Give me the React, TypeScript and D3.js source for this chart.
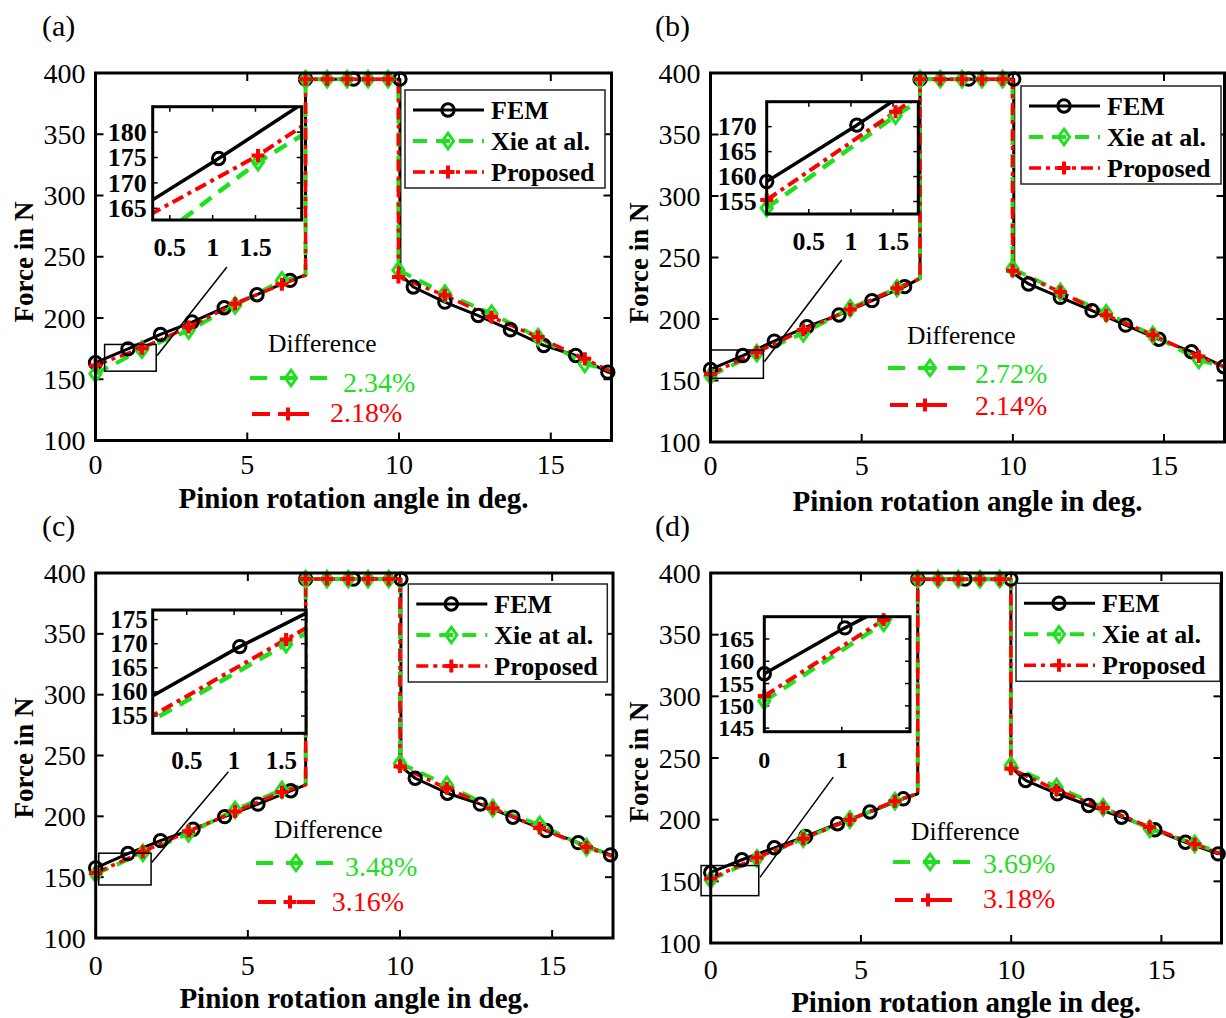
import React from 'react';
import * as d3 from 'd3';

// ---------------- data ----------------
const xDomain = [0, 17];
const yDomain = [100, 400];
const xTickValues = [0, 5, 10, 15];
const yTickValues = [100, 150, 200, 250, 300, 350, 400];
const seriesNames = ['FEM', 'Xie at al.', 'Proposed'];
const panelLabels = ['(a)', '(b)', '(c)', '(d)'];
const diffTitle = 'Difference';
const xieDiff = ['2.34%', '2.72%', '3.48%', '3.69%'];
const proposedDiff = ['2.18%', '2.14%', '3.16%', '3.18%'];
const xLabel = 'Pinion rotation angle in deg.';
const yLabel = 'Force in N';

// [x, y, marker? (0 = no marker)]
const femA = [[0,163.5],[1.07,174.8],[2.14,186.6],[3.18,196.7],[4.24,208.4],[5.32,219],[6.41,230.7],[6.92,235,0],[6.92,395],[8.5,395],[10.03,395],[10.03,236,0],[10.47,225.3],[11.51,213],[12.61,202],[13.67,190.4],[14.77,177.6],[15.82,169.4],[16.88,155.8],[17,155,0]];
const xieA = [[0,154.5],[1.53,174.1],[3.07,189.9],[4.6,210.3],[6.14,230.7],[6.92,235,0],[6.92,395],[7.63,395],[8.29,395],[8.98,395],[9.64,395],[9.98,395,0],[9.98,239],[11.51,220],[13.05,203.5],[14.58,184.4],[16.12,162.6],[17,157,0]];
const propA = [[0,161.3],[1.53,175.4],[3.07,192.6],[4.6,211.7],[6.14,227.5],[6.92,235,0],[6.92,395],[7.63,395],[8.29,395],[8.98,395],[9.64,395],[9.98,395,0],[9.98,233.4],[11.51,218.5],[13.05,200.8],[14.58,184.4],[16.12,166.7],[17,156,0]];

const femB = [[0,159],[1.07,170.3],[2.11,182],[3.19,193.7],[4.25,203.3],[5.34,214.9],[6.42,226.3],[6.93,233,0],[6.93,395],[8.54,395],[10.03,395],[10.03,237,0],[10.52,228.5],[11.57,217.6],[12.62,206.8],[13.73,195],[14.83,183.5],[15.91,173.4],[16.98,161.2]];
const xieB = [[0,153.7],[1.53,172.2],[3.07,188.4],[4.62,208.7],[6.17,225],[6.93,233,0],[6.93,395],[7.6,395],[8.32,395],[8.98,395],[9.66,395],[9.99,395,0],[9.99,241],[11.57,222],[13.09,204.6],[14.63,187],[16.15,166.7],[17,161,0]];
const propB = [[0,155.3],[1.53,173],[3.07,191],[4.62,207.7],[6.17,225],[6.93,233,0],[6.93,395],[7.6,395],[8.32,395],[8.98,395],[9.66,395],[9.99,395,0],[9.99,239.3],[11.57,222],[13.09,203],[14.63,187],[16.15,169.6],[17,161,0]];

const femC = [[0,157.6],[1.06,169.4],[2.13,180],[3.2,189.4],[4.24,199.8],[5.33,210],[6.41,221],[6.9,225.8,0],[6.9,395],[8.47,395],[10.03,395],[10.03,241,0],[10.5,231.3],[11.56,219],[12.64,210],[13.71,199.3],[14.8,188.3],[15.86,178.4],[16.92,168.3]];
const xieC = [[0,152.6],[1.55,169.9],[3.05,186],[4.58,205.3],[6.12,221.7],[6.9,225.8,0],[6.9,395],[7.6,395],[8.3,395],[8.95,395],[9.63,395],[10,395,0],[10,243.6],[11.54,225.8],[13.05,206.7],[14.59,193],[16.13,174.6],[17,168,0]];
const propC = [[0,153.5],[1.55,170.9],[3.05,187.7],[4.58,203.9],[6.12,220],[6.9,225.8,0],[6.9,395],[7.6,395],[8.3,395],[8.95,395],[9.63,395],[10,395,0],[10,241],[11.54,223],[13.05,206.7],[14.59,190.4],[16.13,174.6],[17,167,0]];

const femD = [[0,157.2],[1.04,167.5],[2.12,177.2],[3.16,186.4],[4.22,196.7],[5.3,206.2],[6.41,216.9],[6.89,221,0],[6.89,395],[8.46,395],[9.99,395],[9.99,242.6,0],[10.48,231.8],[11.54,221],[12.58,211.5],[13.67,202],[14.78,191.8],[15.8,181.7],[16.89,172.3]];
const xieD = [[0,151.1],[1.54,168.6],[3.08,184.6],[4.63,200],[6.13,215],[6.89,221,0],[6.89,395],[7.57,395],[8.24,395],[8.96,395],[9.62,395],[9.99,395,0],[9.99,244],[11.51,226.4],[13.06,210],[14.61,192.6],[16.11,180.4],[17,173,0]];
const propD = [[0,152.2],[1.54,169.3],[3.08,184.6],[4.63,200],[6.13,215],[6.89,221,0],[6.89,395],[7.57,395],[8.24,395],[8.96,395],[9.62,395],[9.99,395,0],[9.99,241.3],[11.51,224],[13.06,209.4],[14.61,194],[16.11,180],[17,172,0]];

// inset (zoom) axes: domains, ticks, zoom rectangle [x0,x1,y0,y1], pointer [x0,y0,x1,y1]
const insetXDomainA = [0.3, 2.04], insetYDomainA = [162.7, 185];
const insetXDomainB = [0, 1.8], insetYDomainB = [152.5, 175];
const insetXDomainC = [0.14, 1.76], insetYDomainC = [151.4, 177];
const insetXDomainD = [0, 1.88], insetYDomainD = [144.2, 170];
const insetXTicksA = [0.5, 1, 1.5], insetYTicksA = [165, 170, 175, 180];
const insetXTicksB = [0.5, 1, 1.5], insetYTicksB = [155, 160, 165, 170];
const insetXTicksC = [0.5, 1, 1.5], insetYTicksC = [155, 160, 165, 170, 175];
const insetXTicksD = [0, 1], insetYTicksD = [145, 150, 155, 160, 165];
const zoomRectA = [0.3, 2.0, 156.6, 178.4], pointerA = [4.33, 241.6, 2.03, 169.4];
const zoomRectB = [0, 1.75, 151.8, 174.8], pointerB = [4.34, 248, 1.78, 165.3];
const zoomRectC = [0.1, 1.82, 143.6, 169.7], pointerC = [4.36, 236.7, 1.84, 162];
const zoomRectD = [-0.32, 1.6, 138.4, 162.8], pointerD = [4.08, 234.5, 1.64, 153.3];

// ---------------- layout ----------------
const FONT = '"Liberation Serif", "Times New Roman", Times, serif';
const GREEN = '#1fe01f';
const RED = '#ff0000';
const styles = [
  { color: '#000', width: 3, dash: undefined as string | undefined, marker: 'o' },
  { color: GREEN, width: 4, dash: '14,9', marker: 'd' },
  { color: RED, width: 3.5, dash: '12,5,4,5', marker: '+' },
];

const panels = [
  {
    L: 95.5, T: 73, R: 611.5, B: 440.5, series: [femA, xieA, propA],
    ix: insetXDomainA, iy: insetYDomainA, ixt: insetXTicksA, iyt: insetYTicksA, zr: zoomRectA, pt: pointerA,
    inset: [152.7, 106.7, 301.7, 220], iyGap: 6, ifs: 26,
    legend: [405, 90, 200], lab: [42, 36], yl: [33, 262], xlb: 508, xtb: 473.5,
    diff: { t: [268, 352], gl: [250, 327, 378, 291], gt: [343, 392], rl: [252, 317, 414, 288], rt: [330, 422] },
  },
  {
    L: 710.5, T: 73, R: 1224.5, B: 442, series: [femB, xieB, propB],
    ix: insetXDomainB, iy: insetYDomainB, ixt: insetXTicksB, iyt: insetYTicksB, zr: zoomRectB, pt: pointerB,
    inset: [766.7, 101.7, 918.3, 214], iyGap: 10, ifs: 26,
    legend: [1021, 86, 200], lab: [655, 36], yl: [648, 263], xlb: 511, xtb: 474.5,
    diff: { t: [907, 344], gl: [888, 965, 368, 930], gt: [975, 383], rl: [890, 955, 405, 925], rt: [975, 415] },
  },
  {
    L: 95.7, T: 573, R: 613, B: 938, series: [femC, xieC, propC],
    ix: insetXDomainC, iy: insetYDomainC, ixt: insetXTicksC, iyt: insetYTicksC, zr: zoomRectC, pt: pointerC,
    inset: [152.7, 610, 306, 733.3], iyGap: 5, ifs: 25,
    legend: [408.3, 584, 199], lab: [42, 536], yl: [33, 758], xlb: 1008, xtb: 974.5,
    diff: { t: [274, 838], gl: [256, 333, 863, 296], gt: [345, 876], rl: [258, 322, 902, 290], rt: [331.7, 911] },
  },
  {
    L: 710.7, T: 573, R: 1221.5, B: 943, series: [femD, xieD, propD],
    ix: insetXDomainD, iy: insetYDomainD, ixt: insetXTicksD, iyt: insetYTicksD, zr: zoomRectD, pt: pointerD,
    inset: [764.3, 616.7, 910, 731.7], iyGap: 10, ifs: 24,
    legend: [1016, 583.3, 204], lab: [655, 536], yl: [648, 762], xlb: 1012, xtb: 978.5,
    diff: { t: [911, 840], gl: [893, 970, 862, 930], gt: [983, 873], rl: [895, 958, 900, 928], rt: [983, 908] },
  },
];

function Marker({ kind, cx, cy, color }: { kind: string; cx: number; cy: number; color: string }) {
  if (kind === 'o') return <circle cx={cx} cy={cy} r={6.2} fill="none" stroke={color} strokeWidth={3} />;
  if (kind === 'd')
    return (
      <path d={`M${cx},${cy - 7.8}L${cx + 5.6},${cy}L${cx},${cy + 7.8}L${cx - 5.6},${cy}Z`} fill="none" stroke={color} strokeWidth={3} />
    );
  return <path d={`M${cx - 6.5},${cy}H${cx + 6.5}M${cx},${cy - 6.5}V${cy + 6.5}`} stroke={color} strokeWidth={4} />;
}

function Panel({ p, idx }: { p: any; idx: number }) {
  const x = d3.scaleLinear().domain(xDomain).range([p.L, p.R]);
  const y = d3.scaleLinear().domain(yDomain).range([p.B, p.T]);
  const [iL, iT, iR, iB] = p.inset;
  const ix = d3.scaleLinear().domain(p.ix).range([iL, iR]);
  const iy = d3.scaleLinear().domain(p.iy).range([iB, iT]);
  const mk = (sx: any, sy: any) => d3.line<number[]>().x((d) => sx(d[0])).y((d) => sy(d[1]));
  const mainLine = mk(x, y);
  const insetLine = mk(ix, iy);
  const clipMain = `clipMain${idx}`;
  const clipInset = `clipInset${idx}`;
  const tick = 8;
  const itick = 5;
  const inInset = (d: number[]) => {
    const ex = (p.ix[1] - p.ix[0]) * 0.003;
    const ey = (p.iy[1] - p.iy[0]) * 0.003;
    return d[0] >= p.ix[0] - ex && d[0] <= p.ix[1] + ex && d[1] >= p.iy[0] - ey && d[1] <= p.iy[1] + ey;
  };
  const [lx, ly, lw] = p.legend;
  const rows = [20, 51, 82];
  const df = p.diff;
  return (
    <g>
      <defs>
        <clipPath id={clipMain}>
          <rect x={p.L} y={p.T} width={p.R - p.L} height={p.B - p.T} />
        </clipPath>
        <clipPath id={clipInset}>
          <rect x={iL} y={iT} width={iR - iL} height={iB - iT} />
        </clipPath>
      </defs>
      <text x={p.lab[0]} y={p.lab[1]} fontSize={30} fontFamily={FONT}>{panelLabels[idx]}</text>
      {yTickValues.map((v) => (
        <g key={'yt' + v}>
          <line x1={p.L} x2={p.L + tick} y1={y(v)} y2={y(v)} stroke="#000" strokeWidth={2} />
          <line x1={p.R} x2={p.R - tick} y1={y(v)} y2={y(v)} stroke="#000" strokeWidth={2} />
          <text x={p.L - 10} y={y(v) + 9.5} textAnchor="end" fontSize={28} fontFamily={FONT}>{v}</text>
        </g>
      ))}
      {xTickValues.map((v) => (
        <g key={'xt' + v}>
          <line x1={x(v)} x2={x(v)} y1={p.B} y2={p.B - tick} stroke="#000" strokeWidth={2} />
          <line x1={x(v)} x2={x(v)} y1={p.T} y2={p.T + tick} stroke="#000" strokeWidth={2} />
          <text x={x(v)} y={p.xtb} textAnchor="middle" fontSize={28} fontFamily={FONT}>{v}</text>
        </g>
      ))}
      <text x={(p.L + p.R) / 2} y={p.xlb} textAnchor="middle" fontSize={29} fontWeight="bold" fontFamily={FONT}>{xLabel}</text>
      <text transform={`translate(${p.yl[0]},${p.yl[1]}) rotate(-90)`} textAnchor="middle" fontSize={27} fontWeight="bold" fontFamily={FONT}>{yLabel}</text>
      <g clipPath={`url(#${clipMain})`}>
        {p.series.map((s: number[][], si: number) => (
          <path key={'l' + si} d={mainLine(s) || ''} fill="none" stroke={styles[si].color} strokeWidth={styles[si].width} strokeDasharray={styles[si].dash} strokeLinejoin="round" />
        ))}
      </g>
      {p.series.map((s: number[][], si: number) => (
        <g key={'m' + si}>
          {s.filter((d) => d[2] !== 0).map((d, k) => (
            <Marker key={k} kind={styles[si].marker} cx={x(d[0])} cy={y(d[1])} color={styles[si].color} />
          ))}
        </g>
      ))}
      <rect x={x(p.zr[0])} y={y(p.zr[3])} width={x(p.zr[1]) - x(p.zr[0])} height={y(p.zr[2]) - y(p.zr[3])} fill="none" stroke="#000" strokeWidth={1.5} />
      <line x1={x(p.pt[0])} y1={y(p.pt[1])} x2={x(p.pt[2])} y2={y(p.pt[3])} stroke="#000" strokeWidth={1.5} />
      <rect x={iL} y={iT} width={iR - iL} height={iB - iT} fill="#fff" />
      {p.ixt.map((v: number) => (
        <g key={'ixt' + v}>
          <line x1={ix(v)} x2={ix(v)} y1={iB} y2={iB - itick} stroke="#000" strokeWidth={1.5} />
          <line x1={ix(v)} x2={ix(v)} y1={iT} y2={iT + itick} stroke="#000" strokeWidth={1.5} />
          <text x={ix(v)} y={iB + 36} textAnchor="middle" fontSize={p.ifs} fontWeight="bold" fontFamily={FONT}>{v}</text>
        </g>
      ))}
      {p.iyt.map((v: number) => (
        <g key={'iyt' + v}>
          <line x1={iL} x2={iL + itick} y1={iy(v)} y2={iy(v)} stroke="#000" strokeWidth={1.5} />
          <line x1={iR} x2={iR - itick} y1={iy(v)} y2={iy(v)} stroke="#000" strokeWidth={1.5} />
          <text x={iL - p.iyGap} y={iy(v) + p.ifs / 3} textAnchor="end" fontSize={p.ifs} fontWeight="bold" fontFamily={FONT}>{v}</text>
        </g>
      ))}
      <g clipPath={`url(#${clipInset})`}>
        {p.series.map((s: number[][], si: number) => (
          <path key={'il' + si} d={insetLine(s) || ''} fill="none" stroke={styles[si].color} strokeWidth={styles[si].width + 0.5} strokeDasharray={styles[si].dash} strokeLinejoin="round" />
        ))}
      </g>
      {p.series.map((s: number[][], si: number) => (
        <g key={'im' + si}>
          {s.filter((d) => d[2] !== 0 && inInset(d)).map((d, k) => (
            <Marker key={k} kind={styles[si].marker} cx={ix(d[0])} cy={iy(d[1])} color={styles[si].color} />
          ))}
        </g>
      ))}
      <rect x={iL} y={iT} width={iR - iL} height={iB - iT} fill="none" stroke="#000" strokeWidth={3} />
      <rect x={lx} y={ly} width={lw} height={98} fill="#fff" stroke="#222" strokeWidth={1.5} />
      {seriesNames.map((n, si) => (
        <g key={'lg' + si}>
          <line x1={lx + 8} x2={lx + 79} y1={ly + rows[si]} y2={ly + rows[si]} stroke={styles[si].color} strokeWidth={styles[si].width} strokeDasharray={styles[si].dash} />
          <Marker kind={styles[si].marker} cx={lx + 43} cy={ly + rows[si]} color={styles[si].color} />
          <text x={lx + 86} y={ly + rows[si] + 9} fontSize={26} fontWeight="bold" fontFamily={FONT}>{n}</text>
        </g>
      ))}
      <text x={df.t[0]} y={df.t[1]} fontSize={25.5} fontFamily={FONT}>{diffTitle}</text>
      <line x1={df.gl[0]} x2={df.gl[1]} y1={df.gl[2]} y2={df.gl[2]} stroke={GREEN} strokeWidth={4} strokeDasharray="17,13" />
      <Marker kind="d" cx={df.gl[3]} cy={df.gl[2]} color={GREEN} />
      <text x={df.gt[0]} y={df.gt[1]} fontSize={28} fontFamily={FONT} fill={GREEN}>{xieDiff[idx]}</text>
      <line x1={df.rl[0]} x2={df.rl[1]} y1={df.rl[2]} y2={df.rl[2]} stroke={RED} strokeWidth={4} strokeDasharray="18,8,5,8" />
      <Marker kind="+" cx={df.rl[3]} cy={df.rl[2]} color={RED} />
      <text x={df.rt[0]} y={df.rt[1]} fontSize={28} fontFamily={FONT} fill={RED}>{proposedDiff[idx]}</text>
      <rect x={p.L} y={p.T} width={p.R - p.L} height={p.B - p.T} fill="none" stroke="#000" strokeWidth={3} />
    </g>
  );
}

export default function App() {
  return (
    <svg width={1226} height={1018} style={{ position: 'absolute', left: 0, top: 0, background: '#fff' }}>
      <rect x={0} y={0} width={1226} height={1018} fill="#fff" />
      {panels.map((p, i) => (
        <Panel key={i} p={p} idx={i} />
      ))}
    </svg>
  );
}
